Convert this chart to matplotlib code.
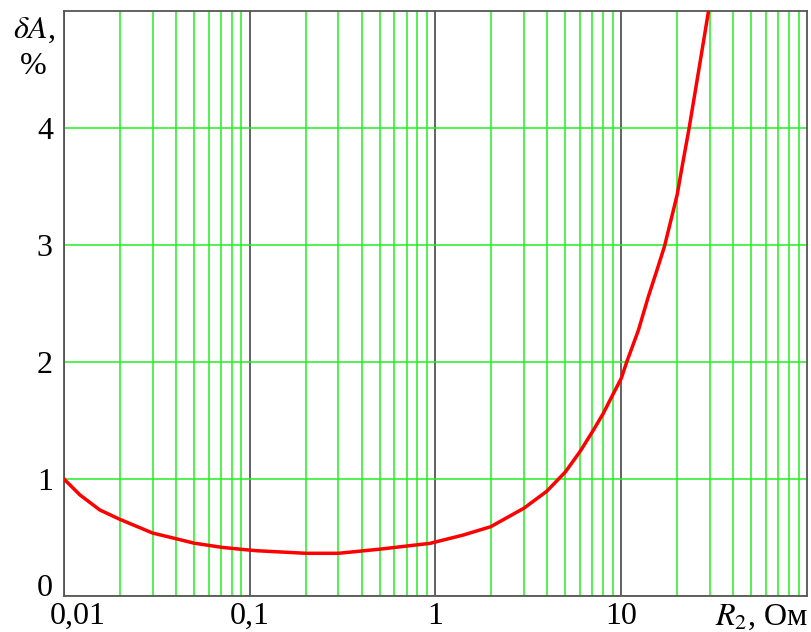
import matplotlib
matplotlib.use("Agg")
import matplotlib.pyplot as plt
from matplotlib.ticker import NullFormatter, LogLocator
import matplotlib.transforms as mtransforms

# Data
r2 = [0.01, 0.0122, 0.0156, 0.02, 0.03, 0.04, 0.05, 0.0706, 0.09, 0.109,
      0.2, 0.3, 0.5, 0.934, 1.41, 1.98, 2.99, 3.97, 5, 6, 7, 8, 9,
      10, 10.7, 12.36, 14.0, 15.6, 17.1, 18.7, 20.0, 21.1, 23.2, 26.3, 29.5]
dA = [1.0, 0.863, 0.735, 0.655, 0.538, 0.49, 0.452, 0.416, 0.399, 0.387,
      0.365, 0.365, 0.40, 0.45, 0.521, 0.592, 0.75, 0.895, 1.06, 1.235,
      1.405, 1.56, 1.72, 1.86, 2.0, 2.27, 2.56, 2.79, 2.99, 3.24, 3.43,
      3.64, 4.0, 4.52, 5.0]

x_ticks = [0.01, 0.1, 1, 10]
x_ticklabels = ["0,01", "0,1", "1", "10"]
y_ticks = [0, 1, 2, 3, 4]
y_ticklabels = ["0", "1", "2", "3", "4"]

plt.rcParams['font.family'] = ['Liberation Serif', 'DejaVu Serif']
plt.rcParams['mathtext.fontset'] = 'stix'
FS = 23

fig = plt.figure(figsize=(8.12, 6.32), dpi=100)
ax = fig.add_axes([64/812, 1 - 596/632, (807-64)/812, (596-11)/632])

ax.set_xscale('log')
ax.set_xlim(0.01, 100)
ax.set_ylim(0, 5)

green = '#22ee22'
gray = '#555555'

ax.xaxis.set_minor_locator(LogLocator(base=10, subs=range(2, 10), numticks=20))
ax.xaxis.set_minor_formatter(NullFormatter())
ax.grid(True, which='minor', axis='x', color=green, lw=1.1)
ax.set_xticks(x_ticks)
ax.set_xticklabels(x_ticklabels)
ax.grid(True, which='major', axis='x', color=gray, lw=1.3)
ax.set_yticks(y_ticks)
ax.set_yticklabels(y_ticklabels)
ax.grid(True, which='major', axis='y', color=green, lw=1.1)
ax.set_axisbelow(True)

ax.tick_params(axis='both', which='both', length=0, labelsize=FS)
ax.tick_params(axis='x', pad=4)
ax.tick_params(axis='y', pad=8)

for s in ax.spines.values():
    s.set_color(gray)
    s.set_linewidth(1.3)

ax.plot(r2, dA, color='#ff0000', lw=2.5, solid_capstyle='round',
        solid_joinstyle='round', clip_on=True, zorder=3)

fig.canvas.draw()
xl = ax.get_xticklabels()
xl[0].set_transform(xl[0].get_transform() +
                    mtransforms.ScaledTranslation(14/100, 0, fig.dpi_scale_trans))
yl = ax.get_yticklabels()
yl[0].set_transform(yl[0].get_transform() +
                    mtransforms.ScaledTranslation(0, 11/100, fig.dpi_scale_trans))

fig.text(34/812, 1 - 30/632, r'$\delta A$,', fontsize=FS, ha='center', va='center')
fig.text(33/812, 1 - 66/632, '%', fontsize=FS, ha='center', va='center')
fig.text(808/812, 1 - 625/632, r'$R_2$, Ом', fontsize=FS, ha='right', va='baseline')

fig.savefig('out.png', dpi=100)
